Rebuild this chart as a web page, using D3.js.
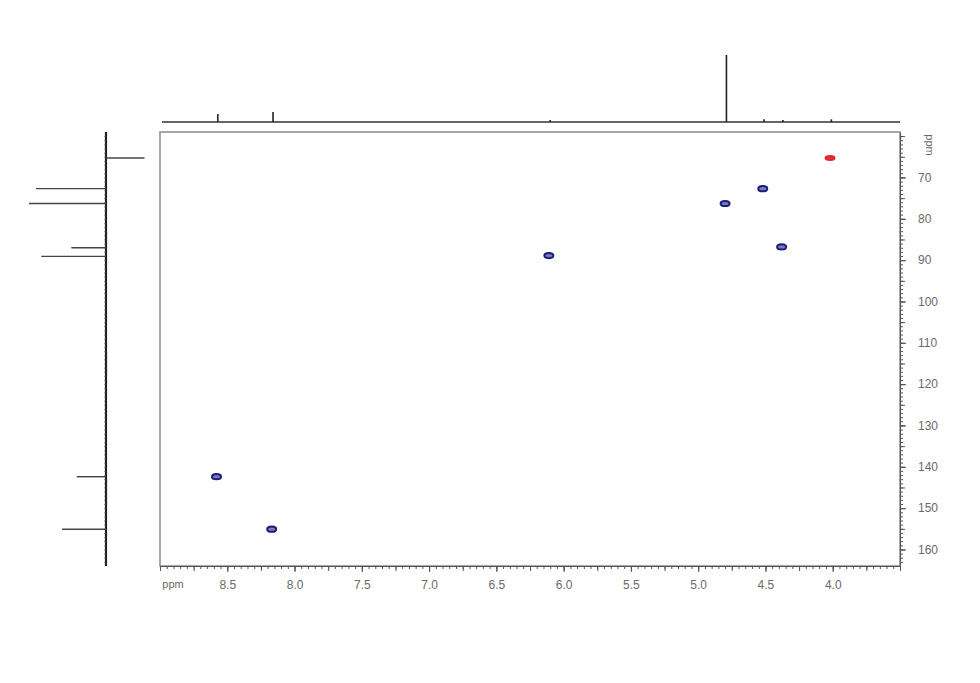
<!DOCTYPE html>
<svg width="980" height="683"></svg>
<style>
  body { margin: 0; background: #fff; }
  svg { font-family: "Liberation Sans", Arial, sans-serif; }
  .axis text { fill: #6a6a6a; font-size: 12px; }
  .axis path, .axis line { stroke: #555; }
</style>
<script src="https://d3js.org/d3.v7.min.js"></script>
<script>

// tick labels
var f2Ticks = [8.5, 8.0, 7.5, 7.0, 6.5, 6.0, 5.5, 5.0, 4.5, 4.0];
var f1Ticks = [70, 80, 90, 100, 110, 120, 130, 140, 150, 160];

// cross peaks (1H ppm, 13C ppm, phase)
var crossH = [8.58, 8.17, 6.11, 4.80, 4.52, 4.38, 4.02];
var crossC = [142.4, 155.1, 88.9, 76.3, 72.7, 86.8, 65.3];
var crossPhase = [1, 1, 1, 1, 1, 1, -1];

// top 1H projection
var topPpm = [8.57, 8.16, 6.10, 4.79, 4.51, 4.37, 4.01];
var topInt = [12, 15, 3, 100, 4, 3, 4];

// left 13C projection (negative = points right)
var leftPpm = [65.3, 72.7, 76.3, 87.0, 89.1, 142.4, 155.1];
var leftInt = [-50, 91, 100, 45, 84, 38, 57];

var svg = d3.select("svg");

var x = d3.scaleLinear().domain([9.0, 3.5]).range([160, 900]);
var y = d3.scaleLinear().domain([59, 164]).range([132, 566]);

var topY = d3.scaleLinear().domain([0, 100]).range([122, 55]);
var leftX = d3.scaleLinear().domain([0, 100]).range([106, 29]);

// frame
svg.append("rect")
    .attr("x", x(9.0)).attr("y", y(59))
    .attr("width", x(3.5) - x(9.0)).attr("height", y(164) - y(59))
    .attr("fill", "none").attr("stroke", "#8a8a8a").attr("stroke-width", 1.5);

// x axis: minor then major
svg.append("g")
    .attr("class", "axis")
    .attr("transform", "translate(0," + y(164) + ")")
    .call(d3.axisBottom(x).tickValues(d3.range(3.5, 9.001, 0.05)).tickSize(3).tickFormat(""))
    .select(".domain").remove();
svg.append("g")
    .attr("class", "axis")
    .attr("transform", "translate(0," + y(164) + ")")
    .call(d3.axisBottom(x).tickValues(d3.range(3.5, 9.001, 0.25)).tickSize(5).tickFormat(""))
    .select(".domain").remove();
svg.append("g")
    .attr("class", "axis")
    .attr("transform", "translate(0," + y(164) + ")")
    .call(d3.axisBottom(x).tickValues(f2Ticks).tickSize(6).tickPadding(8).tickSizeOuter(0).tickFormat(d3.format(".1f")));

svg.append("text")
    .attr("x", 173).attr("y", y(164) + 14).attr("dy", "0.71em")
    .attr("text-anchor", "middle")
    .style("fill", "#6a6a6a").style("font-size", "11px")
    .text("ppm");

// y axis on the right
svg.append("g")
    .attr("class", "axis")
    .attr("transform", "translate(" + x(3.5) + ",0)")
    .call(d3.axisRight(y).tickValues(d3.range(60, 164, 1)).tickSize(3).tickFormat(""))
    .select(".domain").remove();
svg.append("g")
    .attr("class", "axis")
    .attr("transform", "translate(" + x(3.5) + ",0)")
    .call(d3.axisRight(y).tickValues(d3.range(60, 164, 5)).tickSize(5).tickFormat(""))
    .select(".domain").remove();
svg.append("g")
    .attr("class", "axis")
    .attr("transform", "translate(" + x(3.5) + ",0)")
    .call(d3.axisRight(y).tickValues(f1Ticks).tickSize(6).tickPadding(12).tickSizeOuter(0));

svg.append("text")
    .attr("transform", "translate(" + 926 + "," + 145 + ") rotate(90)")
    .attr("text-anchor", "middle")
    .style("fill", "#6a6a6a").style("font-size", "11px")
    .text("ppm");

// top projection
svg.append("line")
    .attr("x1", 162).attr("x2", x(3.5))
    .attr("y1", topY(0)).attr("y2", topY(0))
    .attr("stroke", "#333").attr("stroke-width", 1.5);

svg.append("g").selectAll("line")
    .data(topPpm)
    .join("line")
      .attr("x1", function(d) { return x(d); })
      .attr("x2", function(d) { return x(d); })
      .attr("y1", topY(0))
      .attr("y2", function(d, i) { return topY(topInt[i]); })
      .attr("stroke", "#222").attr("stroke-width", 1.6);

// left projection
svg.append("line")
    .attr("x1", leftX(0)).attr("x2", leftX(0))
    .attr("y1", y(59)).attr("y2", y(164))
    .attr("stroke", "#222").attr("stroke-width", 2.2);
svg.append("g")
    .attr("transform", "translate(" + leftX(0) + ",0)")
    .call(d3.axisLeft(y).tickValues(d3.range(60, 164, 1)).tickSize(1.5).tickSizeOuter(0).tickFormat(""))
    .call(function(g) { g.select(".domain").remove(); g.selectAll("line").attr("stroke", "#444"); });

svg.append("g").selectAll("line")
    .data(leftPpm)
    .join("line")
      .attr("y1", function(d) { return y(d); })
      .attr("y2", function(d) { return y(d); })
      .attr("x1", leftX(0))
      .attr("x2", function(d, i) { return leftX(leftInt[i]); })
      .attr("stroke", "#444").attr("stroke-width", 1.4);

// cross peaks
var peaks = svg.append("g").selectAll("g")
    .data(crossH)
    .join("g")
      .attr("transform", function(d, i) { return "translate(" + x(d) + "," + y(crossC[i]) + ")"; });

peaks.append("ellipse")
    .attr("rx", 4.5)
    .attr("ry", function(d, i) { return crossPhase[i] > 0 ? 2.6 : 2; })
    .attr("fill", function(d, i) { return crossPhase[i] > 0 ? "#7a7ac0" : "#e23030"; })
    .attr("stroke", function(d, i) { return crossPhase[i] > 0 ? "#1c1c7a" : "#e02828"; })
    .attr("stroke-width", 2);

</script>
